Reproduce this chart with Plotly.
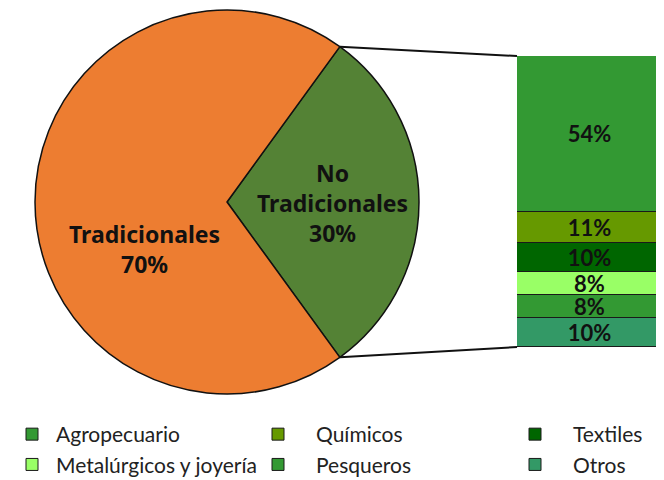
import math
import plotly.graph_objects as go

# ---- data ----
pie_labels = ["No Tradicionales", "Tradicionales"]
pie_text = ["No<br>Tradicionales", "Tradicionales"]
pie_values = [30, 70]
pie_colors = ["#548235", "#ED7D31"]

bar_categories = ["Agropecuario", "Químicos", "Textiles", "Metalúrgicos y joyería", "Pesqueros", "Otros"]
bar_values = [54, 11, 10, 8, 8, 10]
bar_colors = ["#339933", "#669900", "#006600", "#99FF66", "#339933", "#339966"]
legend_columns = ["legend", "legend2", "legend3", "legend", "legend2", "legend3"]

# page has an 8px body margin; work in page pixels and convert
OFF = 8
W, H = 664 - OFF, 480

def px(x):
    return (x - OFF) / W

def py(y):
    return 1 - (y - OFF) / H

# pie placement (page pixels)
pie_left, pie_right, pie_top, pie_bottom = 35, 419, 10, 394
# bar placement (page pixels)
bar_left, bar_right, bar_top, bar_bottom = 517, 663, 56, 347
# pie label centres (page pixels)
pie_label_pos = [(332, 203), (144, 249)]

fig = go.Figure()

fig.add_trace(go.Pie(
    labels=pie_labels,
    values=pie_values,
    textinfo="none",
    marker=dict(colors=pie_colors, line=dict(color="#111111", width=1.5)),
    sort=False,
    direction="clockwise",
    rotation=90 - pie_values[0] / 100 * 360 / 2,
    domain=dict(x=[px(pie_left), px(pie_right)], y=[py(pie_bottom), py(pie_top)]),
    showlegend=False,
    hoverinfo="label+percent",
))

total_pie = sum(pie_values)
for (lx, ly), txt, v in zip(pie_label_pos, pie_text, pie_values):
    fig.add_annotation(
        x=px(lx), y=py(ly), xref="paper", yref="paper",
        text=f"{txt}<br>{round(v / total_pie * 100)}%",
        showarrow=False, xanchor="center", yanchor="middle",
        font=dict(family="Noto Sans", size=23, color="#111111", weight="bold"),
    )

# stacked bar: bottom-most segment is last category
for i in range(len(bar_categories))[::-1]:
    fig.add_trace(go.Bar(
        x=[0],
        y=[bar_values[i]],
        name=bar_categories[i],
        marker=dict(color=bar_colors[i], line=dict(color="#1a1a1a", width=1)),
        texttemplate="%{y}%",
        textposition="inside",
        insidetextanchor="middle",
        constraintext="none",
        textfont=dict(family="Lato", size=22, color="#111111", weight="bold"),
        legend=legend_columns[i],
        legendrank=i + 1,
        hoverinfo="name+y",
    ))

total = sum(bar_values)

# connector lines from pie slice edges to bar corners
cx = (pie_left + pie_right) / 2
cy = (pie_top + pie_bottom) / 2
r = min(pie_right - pie_left, pie_bottom - pie_top) / 2
half = math.radians(pie_values[0] / 100 * 360 / 2)
top_pt = (cx + r * math.cos(half), cy - r * math.sin(half))
bot_pt = (cx + r * math.cos(half), cy + r * math.sin(half))
for (x0, y0), (x1, y1) in [(top_pt, (bar_left, bar_top)), (bot_pt, (bar_left, bar_bottom))]:
    fig.add_shape(type="line", xref="paper", yref="paper",
                  x0=px(x0), y0=py(y0), x1=px(x1), y1=py(y1),
                  line=dict(color="#111111", width=2))

legend_font = dict(family="Lato", size=21, color="#222222")
legend_common = dict(orientation="v", font=legend_font, yanchor="top", y=py(414),
                     xanchor="left", bgcolor="rgba(0,0,0,0)", tracegroupgap=0,
                     traceorder="normal",
                     itemclick=False, itemdoubleclick=False)

def legend_x(marker_center, itemw):
    return px(marker_center - (itemw + 10) / 2)

fig.update_layout(
    width=W, height=H,
    margin=dict(l=0, r=0, t=0, b=0, pad=0, autoexpand=False),
    paper_bgcolor="white", plot_bgcolor="white",
    barmode="stack", bargap=0,
    xaxis=dict(domain=[px(bar_left), px(bar_right)], range=[-0.5, 0.5],
               visible=False, fixedrange=True),
    yaxis=dict(domain=[py(bar_bottom), py(bar_top)], range=[0, total],
               visible=False, fixedrange=True),
    legend=dict(x=px(OFF), itemwidth=38, **legend_common),
    legend2=dict(x=legend_x(278, 66), itemwidth=66, **legend_common),
    legend3=dict(x=legend_x(535, 66), itemwidth=66, **legend_common),
    showlegend=True,
)

fig.write_html("out.html")
